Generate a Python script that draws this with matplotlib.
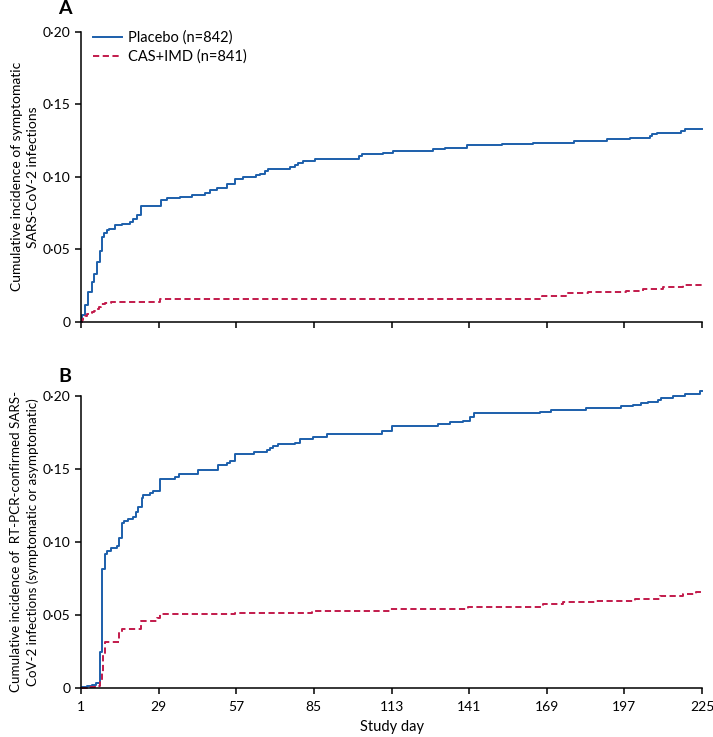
import matplotlib.pyplot as plt
from matplotlib.ticker import FixedLocator

plt.rcParams['font.family'] = ['Lato', 'DejaVu Sans']

# panel A: symptomatic infections, step curves (day, cumulative incidence)
a_placebo_day = [1, 1.25, 2.44, 3.63, 4.86, 5.79, 6.88, 7.85, 8.68, 9.4, 10.26, 11.2, 13.26,
                 15.67, 18.66, 19.85, 21.3, 22.7, 28.3, 29.7, 31.9, 36.7, 40.9, 45.7, 47.5,
                 49.9, 53.5, 56.5, 59.5, 64.3, 65.5, 67.3, 68.5, 76.3, 78.1, 79.3, 81.1, 85.4,
                 101.3, 102.2, 110, 113.4, 127.9, 132.2, 140.1, 153, 163.9, 179, 190.9, 198.9,
                 206.1, 206.9, 208.7, 217.5, 218.7, 225]
a_placebo_val = [0, 0.0048, 0.0112, 0.0203, 0.0276, 0.0329, 0.0409, 0.0489, 0.0584, 0.0612,
                 0.063, 0.0637, 0.0664, 0.0676, 0.0687, 0.071, 0.0733, 0.0795, 0.0801, 0.0842,
                 0.0851, 0.0863, 0.0874, 0.0888, 0.0911, 0.0922, 0.095, 0.0982, 0.0995, 0.1011,
                 0.1022, 0.1036, 0.1055, 0.1064, 0.1082, 0.1094, 0.1105, 0.1123, 0.1144, 0.1155,
                 0.1166, 0.1178, 0.119, 0.12, 0.1217, 0.1224, 0.1233, 0.1247, 0.1258, 0.127,
                 0.1281, 0.1292, 0.1304, 0.1315, 0.1327, 0.1327]

a_cas_day = [1, 1.4, 1.83, 2.4, 3.05, 4.0, 4.86, 5.8, 6.66, 7.4, 8.1, 9.65, 12.0, 15.06,
             29.5, 167.4, 176.1, 183.8, 197.7, 203.6, 210.8, 218, 225]
a_cas_val = [0, 0.0014, 0.0034, 0.0042, 0.005, 0.0057, 0.0064, 0.0074, 0.0085, 0.0102,
             0.012, 0.013, 0.0134, 0.0138, 0.0154, 0.0179, 0.0195, 0.0202, 0.0213, 0.0225,
             0.0241, 0.0252, 0.0252]

# panel B: RT-PCR-confirmed infections
b_placebo_day = [1, 1.5, 3, 5, 6.5, 7.85, 8.46, 9.65, 10.5, 11.7, 13.9, 14.7, 15.7, 16.5,
                 18.05, 19.85, 20.8, 21.65, 22.9, 23.4, 25.9, 26.8, 29.5, 34.9, 36.4, 43.3,
                 50.5, 53.5, 54.7, 56.5, 63.4, 64.3, 68.2, 69.1, 70.3, 72.1, 78.1, 79.9, 84.7,
                 89.8, 109.4, 113, 129.8, 134, 138.8, 141.2, 142.7, 166.5, 170.7, 183.3, 195.9,
                 200.1, 203.1, 205.5, 209.1, 210.3, 214.5, 218.7, 224.1, 225]
b_placebo_val = [0, 0.0007, 0.0014, 0.0021, 0.003, 0.0247, 0.0814, 0.0917, 0.0938, 0.0956,
                 0.0972, 0.1025, 0.1132, 0.1145, 0.1155, 0.1173, 0.1207, 0.1241, 0.1299,
                 0.1322, 0.1337, 0.1349, 0.1429, 0.1443, 0.1464, 0.1493, 0.1527, 0.1539,
                 0.1557, 0.1603, 0.1614, 0.1619, 0.163, 0.1646, 0.166, 0.1669, 0.168, 0.1704,
                 0.172, 0.1742, 0.1761, 0.1797, 0.1809, 0.182, 0.1831, 0.1859, 0.1882, 0.1893,
                 0.1905, 0.1916, 0.1932, 0.1941, 0.1951, 0.1962, 0.1973, 0.1985, 0.2, 0.2012,
                 0.2035, 0.2035]

b_cas_day = [1, 3, 6, 7.85, 8.46, 9.04, 9.65, 14.7, 15.7, 22.6, 28.3, 29.5, 56.5, 84.2,
             112.4, 140.6, 167.7, 174.9, 186.9, 200.7, 209.7, 218.1, 223, 225]
b_cas_val = [0, 0.0007, 0.0014, 0.0041, 0.011, 0.0236, 0.0316, 0.0384, 0.04, 0.046, 0.0476,
             0.0503, 0.0512, 0.0526, 0.0538, 0.0551, 0.0574, 0.0586, 0.0595, 0.0608, 0.0629,
             0.0643, 0.0654, 0.0654]

x_ticks = [1, 29, 57, 85, 113, 141, 169, 197, 225]
y_ticks = [0, 0.05, 0.10, 0.15, 0.20]
y_tick_labels = ['0', '0·05', '0·10', '0·15', '0·20']

blue = '#1c5fab'
red = '#c21a4b'

fig = plt.figure(figsize=(7.13, 7.37), dpi=100, facecolor='white')
axA = fig.add_axes([0.1136, 0.5635, 0.871, 0.3935])
axB = fig.add_axes([0.1136, 0.0669, 0.871, 0.3958])

def style_axis(ax, show_xlabels):
    for s in ['top', 'right']:
        ax.spines[s].set_visible(False)
    for s in ['left', 'bottom']:
        ax.spines[s].set_linewidth(1.1)
    ax.set_xlim(1, 225)
    ax.set_ylim(0, 0.20)
    ax.xaxis.set_major_locator(FixedLocator(x_ticks))
    ax.set_yticks(y_ticks)
    ax.set_yticklabels(y_tick_labels)
    ax.tick_params(direction='out', length=4.5, width=1.1, labelsize=10, pad=3)
    ax.tick_params(axis='x', pad=5)
    if show_xlabels:
        ax.set_xticklabels([str(t) for t in x_ticks])
    else:
        ax.set_xticklabels([])

def plot_panel(ax, pd, pv, cd, cv):
    ax.step(pd, pv, where='post', color=blue, lw=1.4, label='Placebo (n=842)', clip_on=False)
    ax.step(cd, cv, where='post', color=red, lw=1.4, ls=(0, (3.2, 1.8)), label='CAS+IMD (n=841)',
            clip_on=False)

plot_panel(axA, a_placebo_day, a_placebo_val, a_cas_day, a_cas_val)
plot_panel(axB, b_placebo_day, b_placebo_val, b_cas_day, b_cas_val)
style_axis(axA, False)
style_axis(axB, True)

axA.legend(loc='upper left', bbox_to_anchor=(0.0, 1.045), frameon=False, fontsize=10.5,
           handlelength=2.0, handletextpad=0.45, labelspacing=0.35, borderaxespad=0.4)

axA.set_ylabel('Cumulative incidence of symptomatic\nSARS-CoV-2 infections', fontsize=10,
               labelpad=3, linespacing=1.35)
axB.set_ylabel('Cumulative incidence of  RT-PCR-confirmed SARS-\nCoV-2 infections (symptomatic or asymptomatic)',
               fontsize=9.6, labelpad=3, linespacing=1.35)
axB.set_xlabel('Study day', fontsize=10.5, labelpad=5)

fig.text(58 / 713, 1 - 9 / 737, 'A', fontsize=14, fontweight='bold', ha='left', va='center')
fig.text(58 / 713, 1 - 376 / 737, 'B', fontsize=14, fontweight='bold', ha='left', va='center')

fig.savefig('out.png', dpi=100, facecolor='white')
